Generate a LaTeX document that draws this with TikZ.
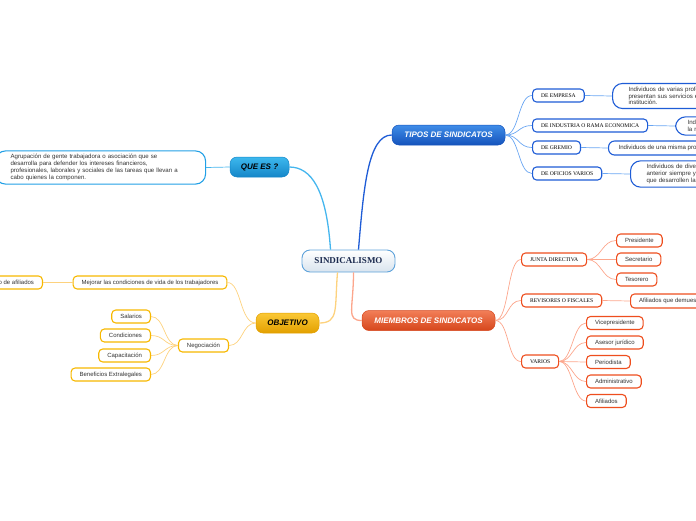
\documentclass[tikz,border=0pt]{standalone}
\usepackage{fontspec}
\setmainfont{Liberation Serif}
\setsansfont{Liberation Sans}

\definecolor{celesteA}{HTML}{3DB8EE}
\definecolor{celesteB}{HTML}{1586C8}
\definecolor{celesteC}{HTML}{22A0E6}
\definecolor{celesteL}{HTML}{45B6EE}
\definecolor{azulA}{HTML}{3F8DE8}
\definecolor{azulB}{HTML}{1553BC}
\definecolor{azulC}{HTML}{1E5CD6}
\definecolor{azulL}{HTML}{6AA6F2}
\definecolor{amarA}{HTML}{FAC836}
\definecolor{amarB}{HTML}{E3A000}
\definecolor{amarC}{HTML}{F7B800}
\definecolor{amarL}{HTML}{FDD27E}
\definecolor{rojoA}{HTML}{F27E58}
\definecolor{rojoB}{HTML}{D6461B}
\definecolor{rojoC}{HTML}{EE4E1E}
\definecolor{rojoL}{HTML}{FCA68C}
\definecolor{bordeC}{HTML}{5EA2DA}
\definecolor{grisC}{HTML}{D9E4EE}
\definecolor{navyC}{HTML}{1B2A4E}
\definecolor{textoG}{HTML}{333333}

\tikzset{
  centro/.style={draw=bordeC, line width=0.9pt, rounded corners=8pt,
    top color=white, bottom color=grisC, minimum width=93pt, minimum height=22pt,
    font=\bfseries\fontsize{9}{10}\selectfont, text=navyC},
  rama/.style={rounded corners=7pt, minimum height=20pt, line width=0.5pt,
    font=\sffamily\bfseries\itshape\fontsize{8}{9}\selectfont},
  hoja/.style={draw, rounded corners=4pt, line width=1.1pt, fill=white,
    minimum height=13pt, inner xsep=8.5pt, inner ysep=0pt, text=textoG,
    font=\sffamily\fontsize{6}{7}\selectfont},
  tipo/.style={hoja, text=black, font=\fontsize{5.6}{6.6}\selectfont},
  nota/.style={hoja, rounded corners=10pt, align=left, inner xsep=16pt,
    inner ysep=3.5pt, font=\sffamily\fontsize{6.1}{6.8}\selectfont},
  eje/.style={line width=1.3pt},
  rayo/.style={line width=0.7pt}
}

\begin{document}
\begin{tikzpicture}[x=1pt, y=-1pt]
  \useasboundingbox (0,0) rectangle (696,520);
  \clip (0,0) rectangle (696,520);
  % Centro
  \node[centro] (Centro) at (348.5,261) {SINDICALISMO};
  % Ramas principales
  \node[rama, top color=celesteA, bottom color=celesteB, draw=celesteB,
    minimum width=59pt, text=black] (QueEs) at (259.5,167) {QUE ES ?};
  \node[rama, top color=azulA, bottom color=azulB, draw=azulB,
    minimum width=113pt, text=white] (Tipos) at (448.5,135) {TIPOS DE SINDICATOS};
  \node[rama, top color=amarA, bottom color=amarB, draw=amarB,
    minimum width=63pt, text=black] (Objetivo) at (287.5,323) {OBJETIVO};
  \node[rama, top color=rojoA, bottom color=rojoB, draw=rojoB,
    minimum width=133pt, text=white] (Miembros) at (428.5,320.5) {MIEMBROS DE SINDICATOS};
  % Ejes
  \draw[eje, celesteL] ([xshift=-18pt]Centro.north) .. controls +(-4,-60) and +(22,0) .. (QueEs.east);
  \draw[eje, azulC] ([xshift=10pt]Centro.north) .. controls +(5,-60) and +(-24,0) .. (Tipos.west);
  \draw[eje, amarL] ([xshift=-11pt]Centro.south) .. controls +(-3,36) and +(20,0) .. (Objetivo.east);
  \draw[eje, rojoL] ([xshift=5pt]Centro.south) .. controls +(0,36) and +(-16,0) .. (Miembros.west);

  % Que es
  \node[nota, draw=celesteC, text width=180pt, inner xsep=15pt, anchor=west] (Def) at (-5,167.5)
    {Agrupación de gente trabajadora o asociación que se\\
     desarrolla para defender los intereses financieros,\\
     profesionales, laborales y sociales de las tareas que llevan a\\
     cabo quienes la componen.};
  \draw[rayo, celesteL] (QueEs.west) -- (Def.east);

  % Tipos de sindicatos
  \foreach \name/\txt/\y in {Emp/DE EMPRESA/95.5, Ind/DE INDUSTRIA O RAMA ECONOMICA/125.5,
      Gre/DE GREMIO/147.5, Ofi/DE OFICIOS VARIOS/173.5} {
    \node[tipo, draw=azulC, anchor=west] (Tipo\name) at (532,\y) {\txt};
    \draw[rayo, azulL] (Tipos.east) .. controls +(14,0) and +(-14,0) .. (Tipo\name.west);
  }
  \node[nota, draw=azulC, anchor=west, text width=150pt] (DescEmp) at (612,96)
    {Individuos de varias profesiones que\\presentan sus servicios en una misma\\institución.};
  \node[nota, draw=azulC, anchor=west, text width=120pt, inner xsep=12pt] (DescInd) at (675,126)
    {Individuos de una misma industria o\\la rama económica.};
  \node[nota, draw=azulC, anchor=west, rounded corners=6pt, inner ysep=0pt,
    minimum height=14pt, inner xsep=10pt] (DescGre) at (608,148)
    {Individuos de una misma profesión u oficio.};
  \node[nota, draw=azulC, anchor=west, text width=150pt] (DescOfi) at (630,174)
    {Individuos de diversas profesiones, cuando en el\\anterior siempre y cuando no haya\\que desarrollen la misma actividad.};
  \foreach \name in {Emp, Ind, Gre, Ofi}
    \draw[rayo, azulL] (Tipo\name.east) -- (Desc\name.west);

  % Objetivo
  \node[hoja, draw=amarC] (Mejorar) at (150,282.5) {Mejorar las condiciones de vida de los trabajadores};
  \node[hoja, draw=amarC, anchor=east] (Aumento) at (43,282.5) {Aumento de afiliados};
  \node[hoja, draw=amarC] (Nego) at (203.5,345.5) {Negociación};
  \draw[rayo, amarL] (Objetivo.west) .. controls +(-16,0) and +(14,0) .. (Mejorar.east);
  \draw[rayo, amarL] (Objetivo.west) .. controls +(-14,0) and +(14,0) .. (Nego.east);
  \draw[rayo, amarL] (Mejorar.west) -- (Aumento.east);
  \foreach \name/\txt/\y in {Sal/Salarios/316.5, Con/Condiciones/335.5,
      Cap/Capacitación/355.5, Ben/Beneficios Extralegales/374.5} {
    \node[hoja, draw=amarC, anchor=east] (Obj\name) at (151,\y) {\txt};
    \draw[rayo, amarL] (Nego.west) .. controls +(-14,0) and +(14,0) .. (Obj\name.east);
  }

  % Miembros de sindicatos
  \foreach \name/\txt/\y in {Junta/JUNTA DIRECTIVA/259.5, Rev/REVISORES O FISCALES/300.5,
      Var/VARIOS/361.5} {
    \node[tipo, draw=rojoC, anchor=west] (Mie\name) at (521,\y) {\txt};
    \draw[rayo, rojoL] (Miembros.east) .. controls +(14,0) and +(-14,0) .. (Mie\name.west);
  }
  \foreach \name/\txt/\y in {Pre/Presidente/240.5, Sec/Secretario/259.5, Tes/Tesorero/279.5} {
    \node[hoja, draw=rojoC, anchor=west] (Junta\name) at (616,\y) {\txt};
    \draw[rayo, rojoL] (MieJunta.east) .. controls +(14,0) and +(-14,0) .. (Junta\name.west);
  }
  \node[hoja, draw=rojoC, anchor=west, minimum height=14pt] (RevAfi) at (630,301)
    {Afiliados que demuestran conocimiento y honestidad};
  \draw[rayo, rojoL] (MieRev.east) -- (RevAfi.west);
  \foreach \name/\txt/\y in {Vice/Vicepresidente/323, Ase/Asesor jurídico/342.5,
      Per/Periodista/362, Adm/Administrativo/381.5, Afi/Afiliados/401} {
    \node[hoja, draw=rojoC, anchor=west] (Var\name) at (586,\y) {\txt};
    \draw[rayo, rojoL] (MieVar.east) .. controls +(13,0) and +(-13,0) .. (Var\name.west);
  }
\end{tikzpicture}
\end{document}
